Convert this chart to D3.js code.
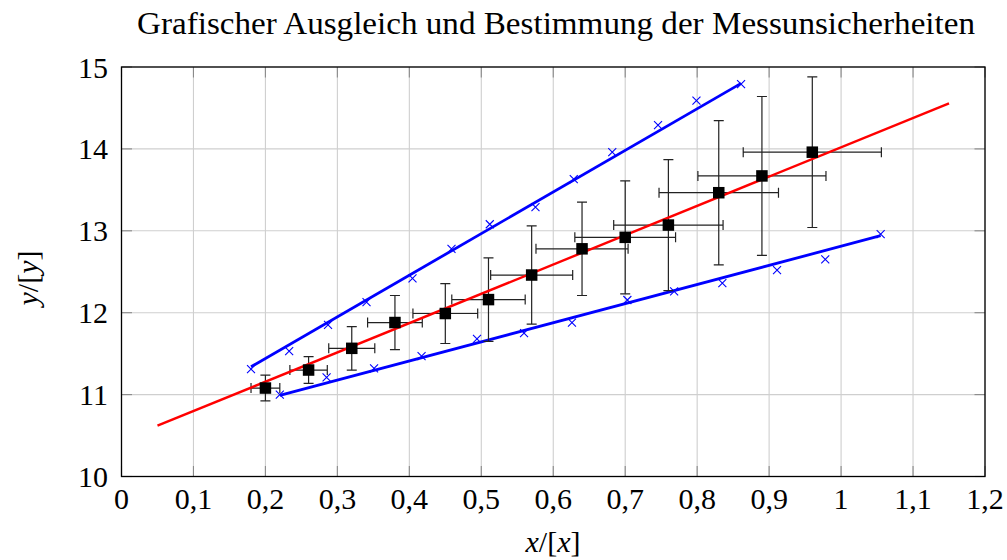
<!DOCTYPE html>
<html>
<head>
<meta charset="utf-8">
<script src="https://cdn.jsdelivr.net/npm/d3@7"></script>
<style>
  html, body { margin: 0; padding: 0; background: #fff; }
  svg { display: block; }
  text { font-family: "Liberation Serif", "DejaVu Serif", serif; fill: #000; }
</style>
</head>
<body>
<svg id="chart" width="1007" height="560"></svg>
<script>
// ---- data ----
const title = "Grafischer Ausgleich und Bestimmung der Messunsicherheiten";
const xTicks = [0, 0.1, 0.2, 0.3, 0.4, 0.5, 0.6, 0.7, 0.8, 0.9, 1.0, 1.1, 1.2];
const yTicks = [10, 11, 12, 13, 14, 15];

// measured points with uncertainties
const xVals = [0.20, 0.26, 0.32, 0.38, 0.45, 0.51, 0.57, 0.64, 0.70, 0.76, 0.83, 0.89, 0.96];
const yVals = [11.08, 11.30, 11.565, 11.88, 11.99, 12.16, 12.46, 12.78, 12.92, 13.07, 13.465, 13.67, 13.96];
const xErr  = [0.020, 0.026, 0.032, 0.038, 0.045, 0.051, 0.057, 0.064, 0.070, 0.076, 0.083, 0.089, 0.096];
const yErr  = [0.157, 0.163, 0.265, 0.33, 0.366, 0.51, 0.60, 0.57, 0.69, 0.80, 0.88, 0.97, 0.92];

// upper limiting crosses
const upX = [0.18, 0.233, 0.287, 0.3405, 0.4044, 0.4586, 0.5118, 0.5753, 0.6285, 0.682, 0.7456, 0.799, 0.861];
const upY = [11.31, 11.53, 11.85, 12.13, 12.42, 12.78, 13.08, 13.29, 13.63, 13.96, 14.29, 14.59, 14.79];
// lower limiting crosses
const lowX = [0.22, 0.285, 0.351, 0.417, 0.494, 0.5594, 0.626, 0.703, 0.768, 0.835, 0.911, 0.978, 1.055];
const lowY = [11.00, 11.21, 11.32, 11.47, 11.68, 11.75, 11.88, 12.155, 12.26, 12.36, 12.52, 12.65, 12.96];

// lines
const fitX = [0.05, 1.15];
const fitY = [10.62, 14.557];
const upLineX = [0.18, 0.861];
const upLineY = [11.34, 14.80];
const lowLineX = [0.22, 1.055];
const lowLineY = [10.99, 12.94];

// ---- layout ----
const L = 121.5, R = 985, T = 67, B = 476.5;
const svg = d3.select("#chart");
const x = d3.scaleLinear().domain([0, 1.2]).range([L, R]);
const y = d3.scaleLinear().domain([10, 15]).range([B, T]);

const fmt = v => String(+v.toFixed(1)).replace(".", ",");

// grid
const g = svg.append("g");
g.selectAll(".gx").data(xTicks).join("line")
  .attr("x1", d => x(d)).attr("x2", d => x(d))
  .attr("y1", T).attr("y2", B)
  .attr("stroke", "#cfcfcf").attr("stroke-width", 1.1);
g.selectAll(".gy").data(yTicks).join("line")
  .attr("x1", L).attr("x2", R)
  .attr("y1", d => y(d)).attr("y2", d => y(d))
  .attr("stroke", "#cfcfcf").attr("stroke-width", 1.1);

// ticks (inward, all four sides)
const tl = 10.5;
const tk = svg.append("g").attr("stroke", "#8a8a8a").attr("stroke-width", 1.1);
xTicks.forEach(d => {
  tk.append("line").attr("x1", x(d)).attr("x2", x(d)).attr("y1", B).attr("y2", B - tl);
  tk.append("line").attr("x1", x(d)).attr("x2", x(d)).attr("y1", T).attr("y2", T + tl);
});
yTicks.forEach(d => {
  tk.append("line").attr("x1", L).attr("x2", L + tl).attr("y1", y(d)).attr("y2", y(d));
  tk.append("line").attr("x1", R).attr("x2", R - tl).attr("y1", y(d)).attr("y2", y(d));
});

// tick labels
svg.append("g").selectAll("text").data(xTicks).join("text")
  .attr("x", d => x(d)).attr("y", 509)
  .attr("text-anchor", "middle").attr("font-size", 30)
  .text(fmt);
svg.append("g").selectAll("text").data(yTicks).join("text")
  .attr("x", 108).attr("y", d => y(d) + 10.5)
  .attr("text-anchor", "end").attr("font-size", 30)
  .text(d => d);

// line generator
const line = d3.line().x(d => x(d[0])).y(d => y(d[1]));

// blue limiting lines
svg.append("path").datum(d3.zip(upLineX, upLineY))
  .attr("d", line).attr("fill", "none").attr("stroke", "#0000ff").attr("stroke-width", 2.8);
svg.append("path").datum(d3.zip(lowLineX, lowLineY))
  .attr("d", line).attr("fill", "none").attr("stroke", "#0000ff").attr("stroke-width", 2.8);

// crosses
const cs = 4;
const crossPath = (px, py) => `M${px - cs},${py - cs}L${px + cs},${py + cs}M${px - cs},${py + cs}L${px + cs},${py - cs}`;
svg.append("g").selectAll("path").data(d3.zip(upX, upY).concat(d3.zip(lowX, lowY))).join("path")
  .attr("d", d => crossPath(x(d[0]), y(d[1])))
  .attr("stroke", "#0000ff").attr("stroke-width", 1.1).attr("fill", "none");

// error bars
const pts = xVals.map((v, i) => ({ x: v, y: yVals[i], ex: xErr[i], ey: yErr[i] }));
const eb = svg.append("g").attr("stroke", "#222").attr("stroke-width", 1.2).attr("fill", "none");
const cap = 5;
pts.forEach(p => {
  const cx = x(p.x), cy = y(p.y);
  const x0 = x(p.x - p.ex), x1 = x(p.x + p.ex);
  const y0 = y(p.y - p.ey), y1 = y(p.y + p.ey);
  eb.append("path").attr("d",
    `M${x0},${cy}L${x1},${cy}M${x0},${cy - cap}L${x0},${cy + cap}M${x1},${cy - cap}L${x1},${cy + cap}` +
    `M${cx},${y0}L${cx},${y1}M${cx - cap},${y0}L${cx + cap},${y0}M${cx - cap},${y1}L${cx + cap},${y1}`);
});

// red fit line
svg.append("path").datum(d3.zip(fitX, fitY))
  .attr("d", line).attr("fill", "none").attr("stroke", "#ff0000").attr("stroke-width", 2.4);

// squares
const sq = 11.5;
svg.append("g").selectAll("rect").data(pts).join("rect")
  .attr("x", d => x(d.x) - sq / 2).attr("y", d => y(d.y) - sq / 2)
  .attr("width", sq).attr("height", sq).attr("fill", "#000");

// axis frame
svg.append("rect").attr("x", L).attr("y", T).attr("width", R - L).attr("height", B - T)
  .attr("fill", "none").attr("stroke", "#000").attr("stroke-width", 1.3);

// title
svg.append("text").attr("x", 556).attr("y", 33.5).attr("text-anchor", "middle")
  .attr("font-size", 31).attr("textLength", 838).attr("lengthAdjust", "spacingAndGlyphs")
  .text(title);

// x label
const xl = svg.append("text").attr("x", 553).attr("y", 552).attr("text-anchor", "middle").attr("font-size", 30);
xl.append("tspan").attr("font-style", "italic").text("x");
xl.append("tspan").text("/[");
xl.append("tspan").attr("font-style", "italic").text("x");
xl.append("tspan").text("]");

// y label
const yl = svg.append("text").attr("transform", "translate(38,278) rotate(-90)")
  .attr("text-anchor", "middle").attr("font-size", 30);
yl.append("tspan").attr("font-style", "italic").text("y");
yl.append("tspan").text("/[");
yl.append("tspan").attr("font-style", "italic").text("y");
yl.append("tspan").text("]");
</script>
</body>
</html>
